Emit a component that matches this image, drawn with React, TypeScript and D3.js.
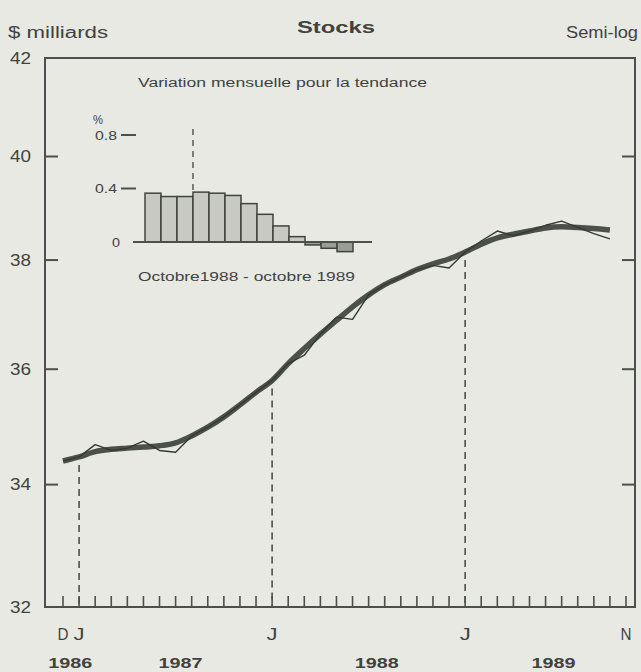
import React from "react";
import * as d3 from "d3";

// Monthly series, December 1986 – October 1989 ($ billions, semi-log)
const monthNames = [
  "Dec 1986",
  "Jan 1987", "Feb 1987", "Mar 1987", "Apr 1987", "May 1987", "Jun 1987",
  "Jul 1987", "Aug 1987", "Sep 1987", "Oct 1987", "Nov 1987", "Dec 1987",
  "Jan 1988", "Feb 1988", "Mar 1988", "Apr 1988", "May 1988", "Jun 1988",
  "Jul 1988", "Aug 1988", "Sep 1988", "Oct 1988", "Nov 1988", "Dec 1988",
  "Jan 1989", "Feb 1989", "Mar 1989", "Apr 1989", "May 1989", "Jun 1989",
  "Jul 1989", "Aug 1989", "Sep 1989", "Oct 1989",
];
const trendValues = [
  34.40,
  34.47, 34.56, 34.60, 34.62, 34.64, 34.66, 34.71, 34.83, 34.98, 35.16, 35.37, 35.59,
  35.80, 36.10, 36.37, 36.63, 36.88, 37.13, 37.35, 37.54, 37.68, 37.82, 37.93, 38.02,
  38.15, 38.30, 38.42, 38.49, 38.55, 38.61, 38.63, 38.62, 38.60, 38.57,
];
const actualValues = [
  34.40,
  34.47, 34.68, 34.58, 34.62, 34.74, 34.58, 34.55, 34.83, 34.98, 35.16, 35.37, 35.59,
  35.80, 36.10, 36.25, 36.63, 36.94, 36.90, 37.35, 37.54, 37.68, 37.82, 37.90, 37.85,
  38.15, 38.36, 38.55, 38.46, 38.55, 38.66, 38.74, 38.62, 38.50, 38.40,
];
const yTickValues = [32, 34, 36, 38, 40, 42];
const yInnerTicks = [34, 36, 38, 40];
const monthTickCount = 36; // Dec 1986 .. Nov 1989
const letterLabels = [
  { label: "D", month: 0 },
  { label: "J", month: 1 },
  { label: "J", month: 13 },
  { label: "J", month: 25 },
  { label: "N", month: 35 },
];
const yearLabels = [
  { label: "1986", month: 0.45 },
  { label: "1987", month: 7.3 },
  { label: "1988", month: 19.5 },
  { label: "1989", month: 30.5 },
];
const januaryMarks = [1, 13, 25];

// Inset: monthly change in trend, %
const insetMonths = [
  "Oct 1988", "Nov 1988", "Dec 1988", "Jan 1989", "Feb 1989", "Mar 1989", "Apr 1989",
  "May 1989", "Jun 1989", "Jul 1989", "Aug 1989", "Sep 1989", "Oct 1989",
];
const insetValues = [0.365, 0.34, 0.34, 0.373, 0.365, 0.348, 0.287, 0.207, 0.12, 0.04, -0.022, -0.047, -0.072];
const insetTicks = [0.4, 0.8];
const insetMarkMonth = "Jan 1989";

const W = 641;
const H = 672;
const BG = "#e9e9e4";
const INK = "#3f433f";
const LINE = "#4b504b";
const FONT = "'Liberation Sans', Arial, Helvetica, sans-serif";

export default function App() {
  const frame = { left: 45, right: 635, top: 58, bottom: 607 };
  const x = d3.scaleLinear().domain([0, 35]).range([63, 626]);
  const y = d3.scaleLog().domain([32, 42]).range([frame.bottom, frame.top]);

  const trendPath = d3
    .line<number>()
    .x((_, i) => x(i))
    .y((d) => y(d))
    .curve(d3.curveMonotoneX)(trendValues) as string;
  const actualPath = d3
    .line<number>()
    .x((_, i) => x(i))
    .y((d) => y(d))(actualValues) as string;

  const xi = d3.scaleBand<string>().domain(insetMonths).range([145, 353]).padding(0);
  const yi = d3.scaleLinear().domain([0, 0.8]).range([242, 135]);

  const txt = (
    s: string,
    px: number,
    py: number,
    size: number,
    width: number,
    anchor: "start" | "middle" | "end" = "start",
    weight: string = "normal"
  ) => (
    <text
      x={px}
      y={py}
      fontSize={size}
      fontWeight={weight}
      textAnchor={anchor}
      textLength={width}
      lengthAdjust="spacingAndGlyphs"
      fill={INK}
      fontFamily={FONT}
    >
      {s}
    </text>
  );

  return (
    <svg
      width={W}
      height={H}
      viewBox={`0 0 ${W} ${H}`}
      style={{ position: "absolute", left: 0, top: 0, display: "block" }}
    >
      <rect x={0} y={0} width={W} height={H} fill={BG} />

      {/* Titles */}
      {txt("$ milliards", 8, 38, 16, 100)}
      {txt("Stocks", 336, 33, 17, 78, "middle", "bold")}
      {txt("Semi-log", 638, 38, 16, 72, "end")}

      {/* Frame */}
      <rect
        x={frame.left}
        y={frame.top}
        width={frame.right - frame.left}
        height={frame.bottom - frame.top}
        fill="none"
        stroke={LINE}
        strokeWidth={2}
      />

      {/* Y ticks and labels */}
      {yTickValues.map((v) => (
        <g key={v}>{txt(String(v), 31, y(v) + 5.5, 16, 21, "end")}</g>
      ))}
      {yInnerTicks.map((v) => (
        <g key={"t" + v}>
          <line x1={frame.left} x2={frame.left + 13} y1={y(v)} y2={y(v)} stroke={LINE} strokeWidth={2} />
          <line x1={frame.right - 13} x2={frame.right} y1={y(v)} y2={y(v)} stroke={LINE} strokeWidth={2} />
        </g>
      ))}

      {/* Month ticks */}
      {d3.range(monthTickCount).map((m) => (
        <line
          key={"m" + m}
          x1={x(m)}
          x2={x(m)}
          y1={frame.bottom}
          y2={frame.bottom - 11}
          stroke={LINE}
          strokeWidth={1.6}
        />
      ))}

      {/* January dashed markers */}
      {januaryMarks.map((m) => (
        <line
          key={"j" + m}
          x1={x(m)}
          x2={x(m)}
          y1={y(trendValues[m]) + 8}
          y2={frame.bottom}
          stroke={LINE}
          strokeWidth={1.6}
          strokeDasharray="7 5"
        />
      ))}

      {/* X labels */}
      {letterLabels.map((d, i) => (
        <g key={"l" + i}>{txt(d.label, x(d.month), 640, 16, 11, "middle")}</g>
      ))}
      {yearLabels.map((d) => (
        <g key={d.label}>{txt(d.label, x(d.month), 668, 15, 44, "middle", "bold")}</g>
      ))}

      {/* Series */}
      <path d={trendPath} fill="none" stroke={LINE} strokeWidth={5.5} strokeLinejoin="round" />
      <path d={actualPath} fill="none" stroke="#353935" strokeWidth={1.4} strokeLinejoin="round" />

      {/* Inset */}
      {txt("Variation mensuelle pour la tendance", 138, 87, 12.5, 289)}
      {txt("%", 93, 124, 12, 10)}
      {insetTicks.map((t) => (
        <g key={"it" + t}>
          {txt(String(t), 117, yi(t) + 4.5, 12.5, 22, "end")}
          <line x1={121} x2={136} y1={yi(t)} y2={yi(t)} stroke={LINE} strokeWidth={2} />
        </g>
      ))}
      {txt("0", 120, yi(0) + 4.5, 12.5, 8, "end")}
      <line
        x1={(xi(insetMarkMonth) as number)}
        x2={(xi(insetMarkMonth) as number)}
        y1={129}
        y2={yi(0)}
        stroke={LINE}
        strokeWidth={1.4}
        strokeDasharray="6 5"
      />
      {insetMonths.map((m, i) => {
        const v = insetValues[i];
        const top = yi(Math.max(0, v));
        const bot = yi(Math.min(0, v));
        return (
          <rect
            key={m}
            x={xi(m) as number}
            y={top}
            width={xi.bandwidth()}
            height={Math.max(1, bot - top)}
            fill={v >= 0 ? "#c8c9c3" : "#9a9c97"}
            stroke={INK}
            strokeWidth={1.5}
          />
        );
      })}
      <line x1={133} x2={372} y1={yi(0)} y2={yi(0)} stroke={LINE} strokeWidth={2} />
      {txt("Octobre1988 - octobre 1989", 138, 281, 13, 217)}
    </svg>
  );
}
